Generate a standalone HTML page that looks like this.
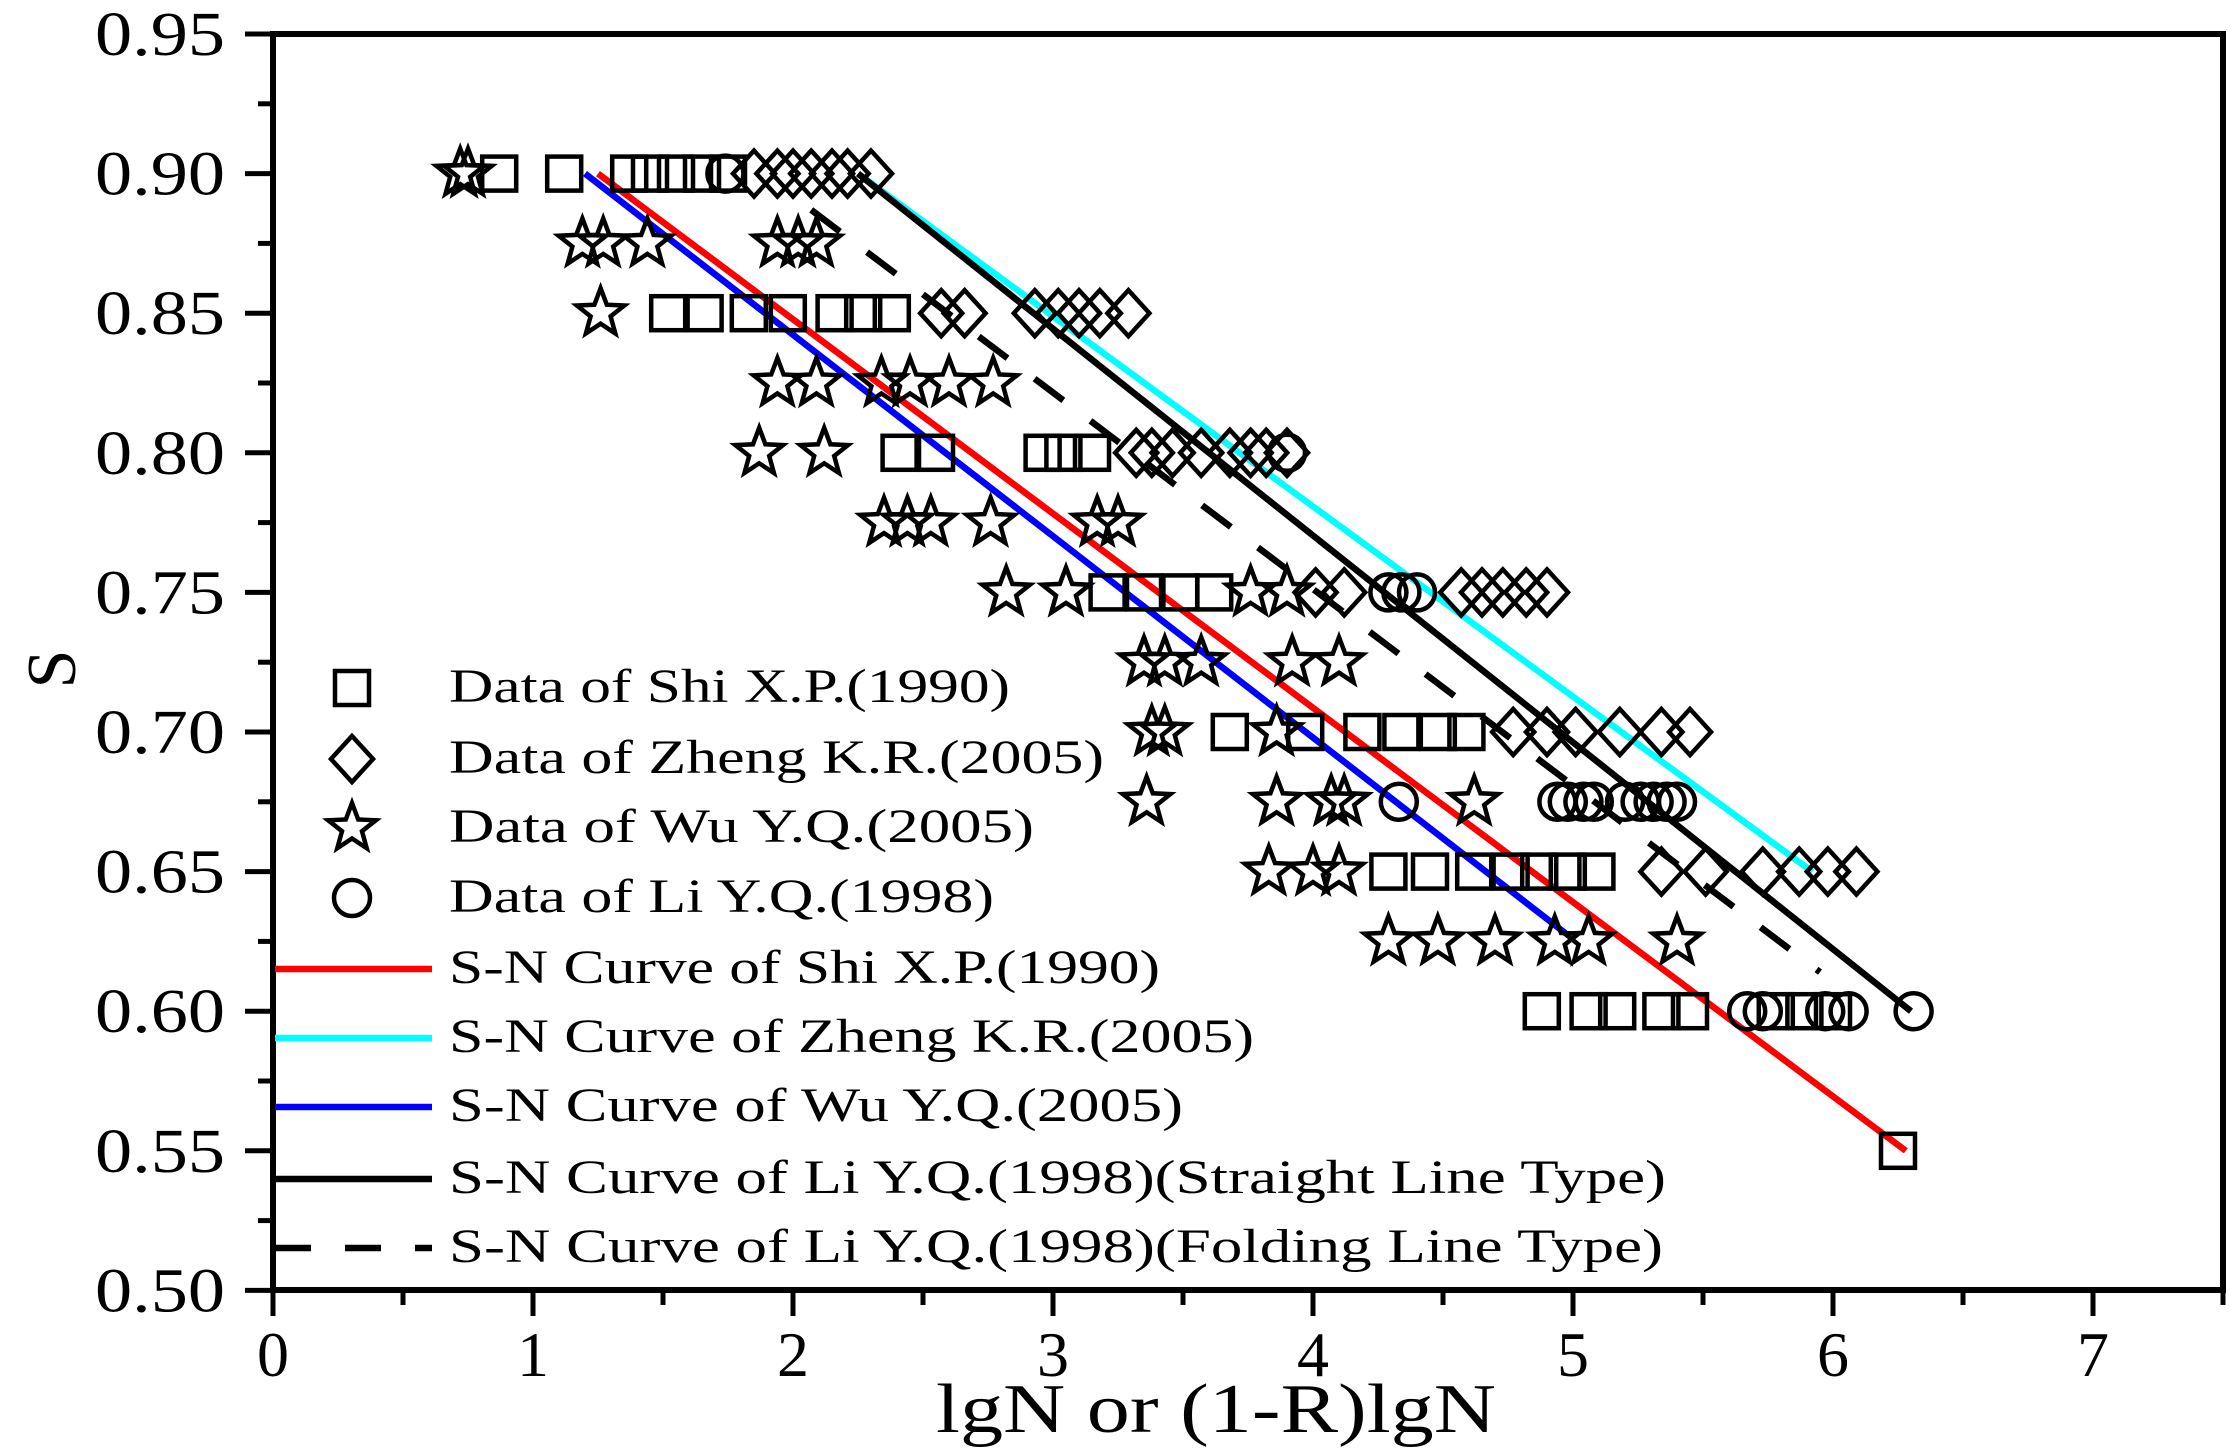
<!DOCTYPE html>
<html><head><meta charset="utf-8"><style>
html,body{margin:0;padding:0;background:#fff;}
svg{display:block;font-family:"Liberation Serif",serif;}
</style></head><body>
<svg id="chart" width="2230" height="1455" viewBox="0 0 2230 1455" xmlns="http://www.w3.org/2000/svg">
<rect x="0" y="0" width="2230" height="1455" fill="#fff"/>
<g id="frame"></g>
<g id="marks"></g>
<g id="axes"></g>
<g id="legend"></g>
</svg>
<script>
const xTicks = [0,1,2,3,4,5,6,7];
const yTicks = [0.50,0.55,0.60,0.65,0.70,0.75,0.80,0.85,0.90,0.95];
const shiX = [0.87,1.12,1.37,1.45,1.55,1.65,1.75, 1.52,1.66,1.83,1.98,2.16,2.27,2.38, 2.41,2.55,2.96,3.04,3.15, 3.21,3.35,3.49,3.62, 3.68,3.97,4.19,4.34,4.48,4.59, 4.29,4.45,4.62,4.76,4.87,4.98,5.09, 4.88,5.06,5.17,5.34,5.45,5.78,5.89,6.0, 6.25];
const shiY = [0.9,0.9,0.9,0.9,0.9,0.9,0.9, 0.85,0.85,0.85,0.85,0.85,0.85,0.85, 0.8,0.8,0.8,0.8,0.8, 0.75,0.75,0.75,0.75, 0.7,0.7,0.7,0.7,0.7,0.7, 0.65,0.65,0.65,0.65,0.65,0.65,0.65, 0.6,0.6,0.6,0.6,0.6,0.6,0.6,0.6, 0.55];
const zhengX = [1.85,1.94,2.0,2.07,2.15,2.21,2.3, 2.57,2.66,2.93,3.02,3.1,3.18,3.29, 3.32,3.38,3.46,3.57,3.68,3.76,3.82,3.9, 4.01,4.12,4.57,4.65,4.73,4.82,4.9, 4.77,4.9,5.01,5.18,5.34,5.45, 5.34,5.51,5.73,5.87,5.98,6.09];
const zhengY = [0.9,0.9,0.9,0.9,0.9,0.9,0.9, 0.85,0.85,0.85,0.85,0.85,0.85,0.85, 0.8,0.8,0.8,0.8,0.8,0.8,0.8,0.8, 0.75,0.75,0.75,0.75,0.75,0.75,0.75, 0.7,0.7,0.7,0.7,0.7,0.7, 0.65,0.65,0.65,0.65,0.65,0.65];
const wuX = [0.72,0.75, 1.19,1.27,1.44,1.94,2.02,2.09, 1.26, 1.94,2.09,2.34,2.45,2.6,2.77, 1.87,2.12, 2.35,2.44,2.53,2.76,3.17,3.25, 2.82,3.05,3.76,3.9, 3.35,3.43,3.57,3.92,4.1, 3.38,3.43,3.86, 3.36,3.86,4.07,4.12,4.62, 3.83,4.0,4.1, 4.29,4.48,4.7,4.93,5.06,5.4];
const wuY = [0.9,0.9, 0.875,0.875,0.875,0.875,0.875,0.875, 0.85, 0.825,0.825,0.825,0.825,0.825,0.825, 0.8,0.8, 0.775,0.775,0.775,0.775,0.775,0.775, 0.75,0.75,0.75,0.75, 0.725,0.725,0.725,0.725,0.725, 0.7,0.7,0.7, 0.675,0.675,0.675,0.675,0.675, 0.65,0.65,0.65, 0.625,0.625,0.625,0.625,0.625,0.625];
const liX = [1.74, 3.9, 4.29,4.34,4.4, 4.33,4.94,4.98,5.04,5.08,5.2,5.26,5.31,5.36,5.4, 5.67,5.73,5.97,6.06,6.31];
const liY = [0.9, 0.8, 0.75,0.75,0.75, 0.675,0.675,0.675,0.675,0.675,0.675,0.675,0.675,0.675,0.675, 0.6,0.6,0.6,0.6,0.6];
const curveShiX = [1.25,6.28], curveShiY = [0.90,0.55];
const curveZhengX = [2.25,5.92], curveZhengY = [0.90,0.65];
const curveWuX = [1.2,4.97], curveWuY = [0.90,0.628];
const curveLiStraightX = [2.25,6.3], curveLiStraightY = [0.90,0.60];
const curveLiFoldX = [2.07,5.95], curveLiFoldY = [0.887,0.614];

const X0=273, XPU=260, YTOP=34, YPU=2792;
const sx = v => X0 + v*XPU;
const sy = v => YTOP + (0.95-v)*YPU;
const NS="http://www.w3.org/2000/svg";
function mk(tag, attrs, parent){const e=document.createElementNS(NS,tag);for(const k in attrs)e.setAttribute(k,attrs[k]);parent.appendChild(e);return e;}
const frame=document.getElementById('frame'), marks=document.getElementById('marks'), axes=document.getElementById('axes'), legend=document.getElementById('legend');

let fr=mk('rect',{x:273,y:34,width:1950,height:1256,fill:'none',stroke:'#000','stroke-width':6},frame);



function curve(xs,ys,color,name,dash){
  const l=mk('line',{x1:sx(xs[0]),y1:sy(ys[0]),x2:sx(xs[1]),y2:sy(ys[1]),stroke:color,'stroke-width':6.5},marks);
  if(dash) l.setAttribute('stroke-dasharray',dash);
  
  
}
curve(curveShiX,curveShiY,'#ff0000','sn-curve-shi');
curve(curveZhengX,curveZhengY,'#00ffff','sn-curve-zheng');
curve(curveWuX,curveWuY,'#0000ff','sn-curve-wu');
curve(curveLiStraightX,curveLiStraightY,'#000','sn-curve-li-straight');
curve(curveLiFoldX,curveLiFoldY,'#000','sn-curve-li-folding','36 34');

function starPath(cx,cy,R){let r=R*0.42,p='';for(let i=0;i<10;i++){const a=-Math.PI/2+i*Math.PI/5,rr=i%2?r:R;p+=(i?'L':'M')+(cx+rr*Math.cos(a)).toFixed(1)+','+(cy+rr*Math.sin(a)).toFixed(1);}return p+'Z';}
function marker(type,cx,cy,parent){
  const st={fill:'none',stroke:'#000','stroke-width':4.5};
  let e;
  if(type==='square') e=mk('rect',Object.assign({x:cx-17,y:cy-17,width:34,height:34},st),parent);
  else if(type==='diamond') e=mk('path',Object.assign({d:`M${cx},${cy-23}L${cx+21},${cy}L${cx},${cy+23}L${cx-21},${cy}Z`},st),parent);
  else if(type==='circle') e=mk('circle',Object.assign({cx:cx,cy:cy,r:18},st),parent);
  else e=mk('path',Object.assign({d:starPath(cx,cy,25)},st),parent);
  return e;
}
function series(xs,ys,type,name){
  for(let i=0;i<xs.length;i++){
    const e=marker(type,sx(xs[i]),sy(ys[i]),marks);
    
    
  }
}
series(shiX,shiY,'square','shi-data-point');
series(zhengX,zhengY,'diamond','zheng-data-point');
series(wuX,wuY,'star','wu-data-point');
series(liX,liY,'circle','li-data-point');

for(let i=0;i<=15;i++){
  const v=i*0.5; if(sx(v)>2225) break;
  const major=i%2===0;
  const t=mk('line',{x1:sx(v),y1:1290,x2:sx(v),y2:1290+(major?26:15),stroke:'#000','stroke-width':5},axes);
  
  
}
xTicks.forEach(v=>{
  const t=mk('text',{x:sx(v),y:1376,'font-size':64,'text-anchor':'middle'},axes);
  t.textContent=String(v);
  
  
});
for(let i=0;i<=18;i++){
  const v=0.5+i*0.025;
  const major=i%2===0;
  const t=mk('line',{x1:273,y1:sy(v),x2:273-(major?28:15),y2:sy(v),stroke:'#000','stroke-width':5},axes);
  
  
}
yTicks.forEach(v=>{
  const t=mk('text',{x:225,y:sy(v)+21,'font-size':62,'text-anchor':'end',textLength:130,lengthAdjust:'spacingAndGlyphs'},axes);
  t.textContent=v.toFixed(2);
  
  
});
let xt=mk('text',{x:1216,y:1432,'font-size':70,'text-anchor':'middle',textLength:560,lengthAdjust:'spacingAndGlyphs'},axes);
xt.textContent='lgN or (1-R)lgN';


let yt=mk('text',{x:0,y:0,'font-size':70,'text-anchor':'middle',transform:'translate(75,669) rotate(-90)'},axes);
yt.textContent='S';



const legY=[702,773,842,912,983,1052,1121,1193,1262];
const legText=['Data of Shi X.P.(1990)','Data of Zheng K.R.(2005)','Data of Wu Y.Q.(2005)','Data of Li Y.Q.(1998)','S-N Curve of Shi X.P.(1990)','S-N Curve of Zheng K.R.(2005)','S-N Curve of Wu Y.Q.(2005)','S-N Curve of Li Y.Q.(1998)(Straight Line Type)','S-N Curve of Li Y.Q.(1998)(Folding Line Type)'];
const legW=[561,655,585,545,711,805,734,1217,1214];
const legSym=['square','diamond','star','circle','#ff0000','#00ffff','#0000ff','#000','dash'];
const legNames=['legend-shi-data','legend-zheng-data','legend-wu-data','legend-li-data','legend-shi-curve','legend-zheng-curve','legend-wu-curve','legend-li-straight','legend-li-folding'];
for(let i=0;i<9;i++){
  const g=mk('g',{},legend);
  
  
  const cy=legY[i]-14;
  const s=legSym[i];
  if(['square','diamond','star','circle'].includes(s)) marker(s,352,cy,g);
  else if(s==='dash') mk('line',{x1:275,y1:cy,x2:432,y2:cy,stroke:'#000','stroke-width':6.5,'stroke-dasharray':'36 34'},g);
  else mk('line',{x1:275,y1:cy,x2:432,y2:cy,stroke:s,'stroke-width':6.5},g);
  const t=mk('text',{x:449,y:legY[i],'font-size':48,textLength:legW[i],lengthAdjust:'spacingAndGlyphs'},g);
  t.textContent=legText[i];
}
</script>
</body></html>
